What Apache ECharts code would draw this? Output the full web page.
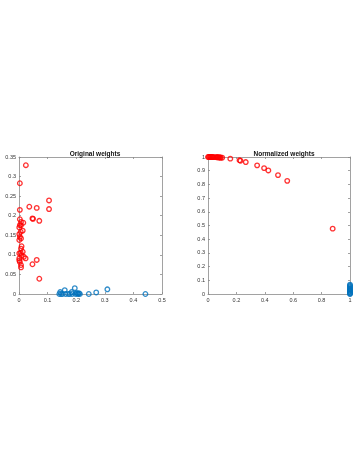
<!DOCTYPE html>
<html>
<head>
<meta charset="utf-8">
<script src="https://cdn.jsdelivr.net/npm/echarts@6/dist/echarts.min.js"></script>
<style>
  html, body { margin: 0; padding: 0; background: #fff; }
  #main { width: 355px; height: 457px; }
</style>
</head>
<body>
<div id="main"></div>
<script>
// left panel: original weights
var origRedX = [0.024, 0.003, 0.003, 0.036, 0.062, 0.105, 0.105, 0.047, 0.049, 0.071,
  0.003, 0.007, 0.015, 0.003, 0.007, 0.001, 0.013, 0.006, 0.001, 0.003,
  0.007, 0.001, 0.009, 0.007, 0.013, 0.001, 0.006, 0.009, 0.017, 0.023,
  0.001, 0.001, 0.003, 0.062, 0.047, 0.007, 0.007, 0.071];
var origRedY = [0.329, 0.283, 0.215, 0.223, 0.220, 0.239, 0.217, 0.193, 0.192, 0.187,
  0.191, 0.184, 0.182, 0.176, 0.176, 0.170, 0.162, 0.159, 0.153, 0.146,
  0.142, 0.138, 0.122, 0.116, 0.108, 0.104, 0.105, 0.099, 0.095, 0.091,
  0.091, 0.086, 0.082, 0.087, 0.076, 0.074, 0.068, 0.039];
var origBlueX = [0.141, 0.144, 0.147, 0.152, 0.160, 0.163, 0.172, 0.178, 0.184, 0.186,
  0.195, 0.198, 0.202, 0.205, 0.207, 0.210, 0.213, 0.244, 0.270, 0.309, 0.442];
var origBlueY = [0.000, 0.005, 0.000, 0.000, 0.010, 0.000, 0.000, 0.000, 0.005, 0.000,
  0.015, 0.000, 0.003, 0.001, 0.000, 0.002, 0.000, 0.000, 0.004, 0.012, 0.000];

// right panel: normalized weights
var normRedX = [0, 0.005, 0.01, 0.015, 0.02, 0.025, 0.03, 0.035, 0.04, 0.05,
  0.06, 0.065, 0.07, 0.075, 0.08, 0.085, 0.09, 0.1, 0.157, 0.222,
  0.229, 0.266, 0.346, 0.395, 0.425, 0.493, 0.558, 0.878];
var normRedY = [1, 1, 1, 1, 1, 1, 1, 0.999, 0.999, 0.999,
  0.998, 0.998, 0.998, 0.997, 0.997, 0.996, 0.996, 0.995, 0.988, 0.976,
  0.973, 0.963, 0.939, 0.919, 0.902, 0.868, 0.826, 0.477];
var normBlueX = [1, 1, 1, 1, 1, 1, 1, 1, 1, 1, 1, 1];
var normBlueY = [0, 0.003, 0.008, 0.015, 0.022, 0.027, 0.035, 0.039, 0.047, 0.055, 0.062, 0.068];

var RED = '#ff0000';
var BLUE = '#0072bd';
var AXIS = '#8a8a8a';

function pairs(xs, ys) {
  var out = [];
  for (var i = 0; i < xs.length; i++) out.push([xs[i], ys[i]]);
  return out;
}

function mainAxis(grid, min, max, interval, pos) {
  return {
    type: 'value', gridIndex: grid, min: min, max: max, interval: interval, position: pos,
    axisLine: { show: true, onZero: false, lineStyle: { color: AXIS, width: 0.8 } },
    axisTick: { show: true, inside: true, length: 2, lineStyle: { color: AXIS, width: 0.8 } },
    axisLabel: { show: true, fontSize: 5.5, color: '#333', margin: 3, fontFamily: 'Liberation Sans' },
    splitLine: { show: false }
  };
}
function boxAxis(grid, min, max, interval, pos) {
  var a = mainAxis(grid, min, max, interval, pos);
  a.axisLabel = { show: false };
  return a;
}

var chartDom = document.getElementById('main');
var myChart = echarts.init(chartDom);

var option = {
  animation: false,
  backgroundColor: '#fff',
  title: [
    { text: 'Original weights', left: 90, top: 146, textAlign: 'center',
      textStyle: { fontSize: 6.5, fontWeight: 'bold', color: '#111', fontFamily: 'Liberation Sans' } },
    { text: 'Normalized weights', left: 279, top: 146, textAlign: 'center',
      textStyle: { fontSize: 6.5, fontWeight: 'bold', color: '#111', fontFamily: 'Liberation Sans' } }
  ],
  grid: [
    { left: 19, top: 157, width: 143, height: 137 },
    { left: 208, top: 157, width: 142, height: 137 }
  ],
  xAxis: [
    mainAxis(0, 0, 0.5, 0.1, 'bottom'),
    boxAxis(0, 0, 0.5, 0.1, 'top'),
    mainAxis(1, 0, 1, 0.2, 'bottom'),
    boxAxis(1, 0, 1, 0.2, 'top')
  ],
  yAxis: [
    mainAxis(0, 0, 0.35, 0.05, 'left'),
    boxAxis(0, 0, 0.35, 0.05, 'right'),
    mainAxis(1, 0, 1, 0.1, 'left'),
    boxAxis(1, 0, 1, 0.1, 'right')
  ],
  series: [
    { type: 'scatter', xAxisIndex: 0, yAxisIndex: 0, data: pairs(origRedX, origRedY),
      symbol: 'circle', symbolSize: 4.6, itemStyle: { color: 'transparent', borderColor: RED, borderWidth: 1.3 } },
    { type: 'scatter', xAxisIndex: 0, yAxisIndex: 0, data: pairs(origBlueX, origBlueY),
      symbol: 'circle', symbolSize: 4.6, itemStyle: { color: 'transparent', borderColor: BLUE, borderWidth: 1.3 } },
    { type: 'scatter', xAxisIndex: 2, yAxisIndex: 2, data: pairs(normRedX, normRedY),
      symbol: 'circle', symbolSize: 4.6, itemStyle: { color: 'transparent', borderColor: RED, borderWidth: 1.3 } },
    { type: 'scatter', xAxisIndex: 2, yAxisIndex: 2, data: pairs(normBlueX, normBlueY),
      symbol: 'circle', symbolSize: 4.6, itemStyle: { color: 'transparent', borderColor: BLUE, borderWidth: 1.3 } }
  ]
};

option && myChart.setOption(option);
</script>
</body>
</html>
